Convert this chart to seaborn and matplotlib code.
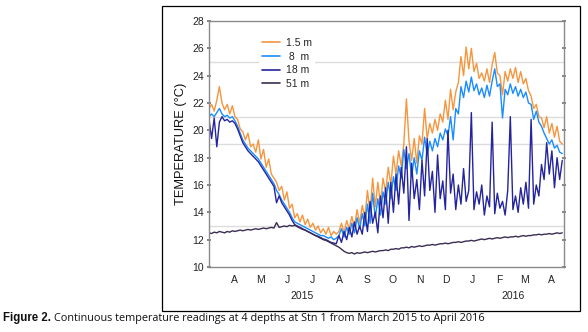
import pandas as pd
import numpy as np
import matplotlib
matplotlib.use("Agg")
import matplotlib.pyplot as plt
import matplotlib.dates as mdates
import matplotlib.transforms as mtransforms
from matplotlib.patches import Rectangle
import seaborn as sns

# ------------------- Data (one value every 3 days) -------------------
start_date = "2015-03-17"

temp_1_5m = [
    21.6, 21.9, 21.4, 22.2, 23.2, 22.0, 21.5, 21.9, 21.2, 21.8,
    21.0, 20.8, 20.1, 19.9, 19.3, 19.8, 18.8, 19.0, 18.4, 19.3,
    17.9, 18.6, 17.3, 17.9, 16.8, 16.5, 16.2, 15.6, 15.9, 14.9,
    15.5, 14.3, 14.6, 13.6, 13.9, 13.3, 13.8, 13.1, 13.5, 12.9,
    13.2, 12.7, 13.0, 12.5, 12.8, 12.4, 12.9, 12.3, 12.6, 12.4,
    12.6, 13.2, 12.5, 13.4, 12.8, 13.7, 12.9, 14.2, 13.2, 14.5,
    13.6, 15.6, 14.0, 16.5, 14.4, 16.2, 14.6, 16.5, 15.5, 17.3,
    16.0, 18.1, 16.8, 18.5, 17.4, 19.0, 22.3, 19.2, 17.8, 19.4,
    17.6, 19.6, 19.0, 21.6, 19.4, 20.5, 19.8, 20.8, 20.0, 21.2,
    20.6, 22.2, 20.8, 23.0, 21.5, 22.8, 23.5, 25.4, 24.0, 26.1,
    24.5, 26.0, 24.3, 24.9, 23.8, 24.2, 23.6, 24.5, 23.5, 24.8,
    25.7, 24.2, 24.0, 22.6, 24.3, 23.6, 24.5, 23.8, 24.6, 23.5,
    24.3, 23.4, 23.8, 22.9, 22.5, 21.6, 21.9, 21.0, 20.9, 20.2,
    21.0, 19.8, 20.5, 19.5, 20.3, 19.2, 19.0,
]

temp_8m = [
    21.0, 21.2, 21.0, 21.3, 21.6, 21.2, 21.0, 21.1, 20.9, 21.0,
    20.7, 20.3, 19.8, 19.3, 19.0, 18.7, 18.5, 18.3, 18.1, 17.9,
    17.6, 17.3, 17.0, 16.7, 16.4, 16.1, 15.6, 15.3, 14.9, 14.6,
    14.3, 14.0, 13.6, 13.3, 13.2, 13.1, 13.0, 12.9, 12.8, 12.7,
    12.6, 12.5, 12.4, 12.3, 12.3, 12.2, 12.1, 12.2, 12.0, 12.1,
    12.3, 12.8, 12.2, 12.9, 12.4, 13.2, 12.5, 13.6, 12.8, 13.9,
    13.0, 14.6, 13.2, 15.4, 13.6, 15.0, 13.8, 15.5, 14.6, 16.2,
    15.0, 16.6, 15.6, 17.4, 16.5, 18.6, 17.2, 18.3, 16.6, 18.0,
    16.8, 18.5, 17.8, 19.5, 18.2, 19.2, 18.5, 19.4, 18.8, 19.8,
    19.3, 20.1, 19.6, 21.0, 19.3, 21.6, 21.2, 23.2, 22.4, 23.6,
    22.8, 23.9, 22.9, 23.4, 22.6, 23.1, 22.4, 23.3, 22.5, 23.6,
    24.5, 23.2, 23.4, 20.9, 23.0, 22.6, 23.4, 22.7, 23.2, 22.5,
    23.0, 22.4, 22.8, 22.0, 21.9, 20.8, 21.4, 20.6, 20.3, 19.8,
    19.4, 19.0, 19.3, 18.7, 18.9, 18.4, 18.3,
]

temp_18m = [
    20.8, 19.4, 20.9, 18.8, 20.6, 21.0, 20.7, 20.8, 20.6, 20.7,
    20.5, 20.1, 19.6, 19.1, 18.8, 18.5, 18.3, 18.1, 17.9, 17.7,
    17.4, 17.1, 16.8, 16.5, 16.2, 15.9, 14.7, 15.2, 14.7, 14.4,
    14.1, 13.8, 13.4, 13.1, 13.0, 12.9, 12.8, 12.7, 12.6, 12.5,
    12.4, 12.3, 12.25, 12.15, 12.05, 12.0, 11.9, 11.8, 11.75, 11.7,
    12.3, 11.8, 12.6, 12.0, 12.9, 12.2, 13.3, 12.4, 13.0, 12.4,
    14.0, 12.6, 14.8, 13.2, 14.0, 12.5, 15.2, 13.6, 15.8, 13.2,
    16.2, 14.0, 16.8, 14.6, 17.3, 15.4, 18.8, 13.4, 17.6, 15.0,
    16.4, 14.2, 17.8, 15.2, 19.4, 15.6, 17.0, 14.0, 18.2, 15.0,
    16.3, 14.2, 20.0, 15.4, 16.8, 14.2, 16.0, 14.6, 17.2, 14.8,
    15.6, 21.3, 14.2, 15.5, 14.6, 16.0, 13.8, 15.2, 14.4, 20.6,
    13.9, 15.4, 14.3, 14.8, 13.8, 15.6, 21.0, 14.2, 15.2, 14.0,
    15.8, 14.6, 16.2, 14.3, 20.8, 14.6, 16.0, 15.2, 17.5, 16.4,
    19.1, 16.8, 18.5, 15.8, 18.0, 16.4, 17.8,
]

temp_51m = [
    12.5, 12.45, 12.55, 12.5, 12.6, 12.55, 12.5, 12.6, 12.55, 12.65,
    12.6, 12.65, 12.7, 12.65, 12.7, 12.75, 12.7, 12.75, 12.8, 12.75,
    12.8, 12.85, 12.8, 12.85, 12.9, 12.85, 13.25, 12.9, 12.95, 13.0,
    12.95, 13.05, 13.0, 13.05, 12.95, 12.85, 12.75, 12.7, 12.6, 12.5,
    12.4, 12.3, 12.2, 12.1, 12.0, 11.95, 11.85, 11.75, 11.65, 11.55,
    11.45, 11.3, 11.15, 11.05, 11.0, 11.05, 10.95, 11.05, 11.0, 11.05,
    11.1, 11.05, 11.1, 11.15, 11.1, 11.15, 11.2, 11.2, 11.25, 11.2,
    11.3, 11.3, 11.35, 11.3, 11.4, 11.4, 11.45, 11.4, 11.5, 11.45,
    11.5, 11.55, 11.5, 11.55, 11.6, 11.6, 11.65, 11.6, 11.65, 11.7,
    11.7, 11.75, 11.7, 11.75, 11.8, 11.8, 11.85, 11.8, 11.85, 11.9,
    11.9, 11.95, 11.9, 11.95, 12.0, 12.05, 12.0, 12.05, 12.1, 12.05,
    12.1, 12.15, 12.1, 12.15, 12.2, 12.15, 12.2, 12.2, 12.25, 12.2,
    12.25, 12.3, 12.25, 12.3, 12.3, 12.35, 12.35, 12.4, 12.35, 12.4,
    12.4, 12.45, 12.4, 12.45, 12.5, 12.45, 12.5,
]

depth_labels = ["1.5 m", " 8  m", "18 m", "51 m"]
depth_colors = ["#F5963F", "#1A8CFF", "#24249C", "#3B2C52"]
grid_levels = [13, 19, 21, 25]
year_labels = ["2015", "2016"]
year_label_dates = ["2015-07-03", "2016-03-02"]

dates = pd.date_range(start_date, periods=len(temp_1_5m), freq="3D")

df = pd.concat([
    pd.DataFrame({"date": dates, "temp": vals, "depth": lab})
    for vals, lab in zip([temp_1_5m, temp_8m, temp_18m, temp_51m], depth_labels)
], ignore_index=True)

# ------------------- Plot -------------------
sns.set_theme(style="white")
plt.rcParams["font.family"] = ["Liberation Sans", "DejaVu Sans"]

fig = plt.figure(figsize=(5.88, 3.32), dpi=100)
ax = fig.add_axes([209 / 588, 65 / 332, 355 / 588, 246 / 332])

for lvl in grid_levels:
    ax.axhline(lvl, color="#dcdcdc", lw=1.0, zorder=0)

sns.lineplot(data=df, x="date", y="temp", hue="depth", hue_order=depth_labels,
             palette=depth_colors, linewidth=1.0, estimator=None, ax=ax)
# deepest sensor drawn a bit heavier, like the noisy band in the original
ax.lines[-1].set_linewidth(1.6)

ax.set_ylim(10, 28)
ax.set_yticks(range(10, 29, 2))
ax.set_xlim(pd.Timestamp("2015-03-17"), pd.Timestamp("2016-04-30"))

ax.xaxis.set_major_locator(mdates.MonthLocator())
ax.xaxis.set_major_formatter(plt.NullFormatter())
ax.xaxis.set_minor_locator(mdates.MonthLocator(bymonthday=15))
ax.xaxis.set_minor_formatter(plt.FuncFormatter(lambda v, p: mdates.num2date(v).strftime("%b")[0]))

ax.tick_params(axis="x", which="major", direction="in", length=3, color="#777777")
ax.tick_params(axis="x", which="minor", length=0, pad=6, labelsize=7.5, labelcolor="#222222")
ax.tick_params(axis="y", which="major", direction="out", length=3, left=True,
               labelsize=7.5, labelcolor="#222222", color="#777777", pad=2)
ax.tick_params(axis="y", right=True, direction="inout", length=3)

for side in ["left", "right", "top", "bottom"]:
    ax.spines[side].set_color("#8a8a8a")
    ax.spines[side].set_linewidth(1.0)

ax.set_xlabel("")
ax.set_ylabel("TEMPERATURE (°C)", fontsize=9.3, color="#111111", labelpad=4)

trans = mtransforms.blended_transform_factory(ax.transData, ax.transAxes)
for lab, d in zip(year_labels, year_label_dates):
    ax.text(pd.Timestamp(d), -0.118, lab, transform=trans, ha="center", va="center",
            fontsize=7.5, color="#222222")

leg = ax.legend(loc="upper left", bbox_to_anchor=(0.125, 0.965), frameon=True,
                fontsize=7.5, handlelength=1.8, handletextpad=0.5, labelspacing=0.35,
                borderpad=0.3, fancybox=False)
leg.get_frame().set_facecolor("white")
leg.get_frame().set_edgecolor("none")
leg.get_frame().set_alpha(1)
for line in leg.get_lines():
    line.set_linewidth(1.2)

# outer box and caption
fig.patches.append(Rectangle((162 / 588, 21 / 332), 418 / 588, 305 / 332,
                             transform=fig.transFigure, fill=False, ec="black", lw=0.9))
cap_y = 1 - 318 / 332
t1 = fig.text(3 / 588, cap_y, "Figure 2.", fontsize=8.3, fontweight="bold",
              family=["Liberation Sans", "DejaVu Sans"], va="center", ha="left", color="#111111")
fig.canvas.draw()
x_end = fig.transFigure.inverted().transform(
    (t1.get_window_extent(fig.canvas.get_renderer()).x1 + 3, 0))[0]
fig.text(x_end, cap_y,
         "Continuous temperature readings at 4 depths at Stn 1 from March 2015 to April 2016",
         fontsize=7.8, family=["Open Sans", "DejaVu Sans"], va="center", ha="left", color="#111111")

fig.savefig("out.png", dpi=100)
plt.close()
